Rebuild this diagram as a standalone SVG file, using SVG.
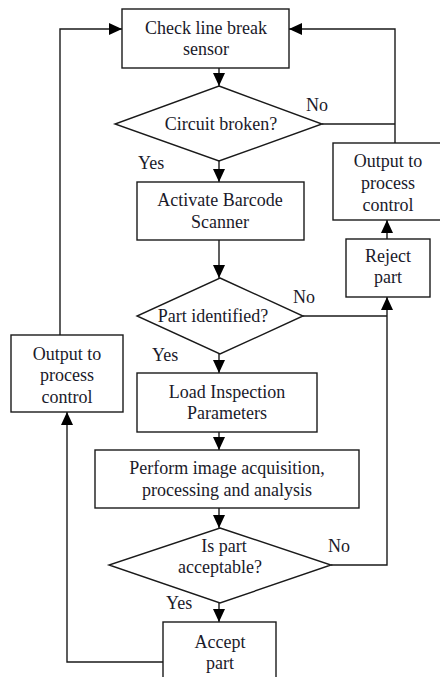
<svg xmlns="http://www.w3.org/2000/svg" width="440" height="677" viewBox="0 0 440 677">
<style>
  .box { fill: #ffffff; stroke: #1a1a1a; stroke-width: 1.4; }
  .line { fill: none; stroke: #1a1a1a; stroke-width: 1.4; }
  .t { font-family: Liberation Serif; font-size: 18px; fill: #1a1a2a; text-anchor: middle; }
  .lbl { font-family: Liberation Serif; font-size: 18px; fill: #1a1a2a; }
</style>
<defs>
  <marker id="arr" markerWidth="14" markerHeight="12" refX="13" refY="6" orient="auto" markerUnits="userSpaceOnUse">
    <path d="M0,0 L13,6 L0,12 Z" fill="#000"/>
  </marker>
</defs>
<rect width="440" height="677" fill="#ffffff"/>

<g id="connectors">
  <line class="line" x1="219" y1="68" x2="219" y2="86" marker-end="url(#arr)"/>
  <line class="line" x1="219" y1="161" x2="219" y2="182" marker-end="url(#arr)"/>
  <line class="line" x1="219" y1="240" x2="219" y2="278" marker-end="url(#arr)"/>
  <line class="line" x1="219" y1="354" x2="219" y2="373" marker-end="url(#arr)"/>
  <line class="line" x1="219" y1="432" x2="219" y2="450" marker-end="url(#arr)"/>
  <line class="line" x1="219" y1="508" x2="219" y2="528" marker-end="url(#arr)"/>
  <line class="line" x1="219" y1="603" x2="219" y2="622" marker-end="url(#arr)"/>
  <polyline class="line" points="322,124 395,124"/>
  <polyline class="line" points="395,143 395,29 289,29" marker-end="url(#arr)"/>
  <line class="line" x1="387" y1="239" x2="387" y2="220" marker-end="url(#arr)"/>
  <polyline class="line" points="303,316 387,316"/>
  <polyline class="line" points="331,565 387,565 387,297" marker-end="url(#arr)"/>
  <polyline class="line" points="163,662 67,662 67,412" marker-end="url(#arr)"/>
  <polyline class="line" points="60,335 60,29 122,29" marker-end="url(#arr)"/>
</g>

<g id="check-sensor">
  <rect class="box" x="122" y="9" width="167" height="59"/>
  <text class="t" x="206" y="34">Check line break</text>
  <text class="t" x="206" y="55">sensor</text>
</g>

<g id="circuit-broken">
  <polygon class="box" points="219,86 322,124 219,161 115,124"/>
  <text class="t" x="221" y="130">Circuit broken?</text>
</g>

<g id="activate-scanner">
  <rect class="box" x="137" y="182" width="167" height="58"/>
  <text class="t" x="220" y="206">Activate Barcode</text>
  <text class="t" x="220" y="228">Scanner</text>
</g>

<g id="part-identified">
  <polygon class="box" points="220,278 303,316 220,354 137,316"/>
  <text class="t" x="213" y="322">Part identified?</text>
</g>

<g id="load-params">
  <rect class="box" x="137" y="373" width="180" height="59"/>
  <text class="t" x="227" y="398">Load Inspection</text>
  <text class="t" x="227" y="419">Parameters</text>
</g>

<g id="perform-image">
  <rect class="box" x="95" y="450" width="264" height="58"/>
  <text class="t" x="227" y="474">Perform image acquisition,</text>
  <text class="t" x="227" y="496">processing and analysis</text>
</g>

<g id="part-acceptable">
  <polygon class="box" points="220,528 331,565 220,603 109,565"/>
  <text class="t" x="224" y="552">Is part</text>
  <text class="t" x="220" y="573">acceptable?</text>
</g>

<g id="accept-part">
  <rect class="box" x="163" y="622" width="113" height="70"/>
  <text class="t" x="220" y="648">Accept</text>
  <text class="t" x="220" y="669">part</text>
</g>

<g id="reject-part">
  <rect class="box" x="346" y="239" width="84" height="58"/>
  <text class="t" x="388" y="262">Reject</text>
  <text class="t" x="388" y="283">part</text>
</g>

<g id="output-right">
  <rect class="box" x="333" y="143" width="112" height="77"/>
  <text class="t" x="388" y="167">Output to</text>
  <text class="t" x="388" y="189">process</text>
  <text class="t" x="388" y="211">control</text>
</g>

<g id="output-left">
  <rect class="box" x="11" y="335" width="112" height="77"/>
  <text class="t" x="67" y="360">Output to</text>
  <text class="t" x="67" y="381">process</text>
  <text class="t" x="67" y="403">control</text>
</g>

<g id="labels">
  <text class="lbl" x="306" y="111">No</text>
  <text class="lbl" x="138" y="169">Yes</text>
  <text class="lbl" x="293" y="303">No</text>
  <text class="lbl" x="152" y="361">Yes</text>
  <text class="lbl" x="328" y="552">No</text>
  <text class="lbl" x="166" y="609">Yes</text>
</g>
</svg>
